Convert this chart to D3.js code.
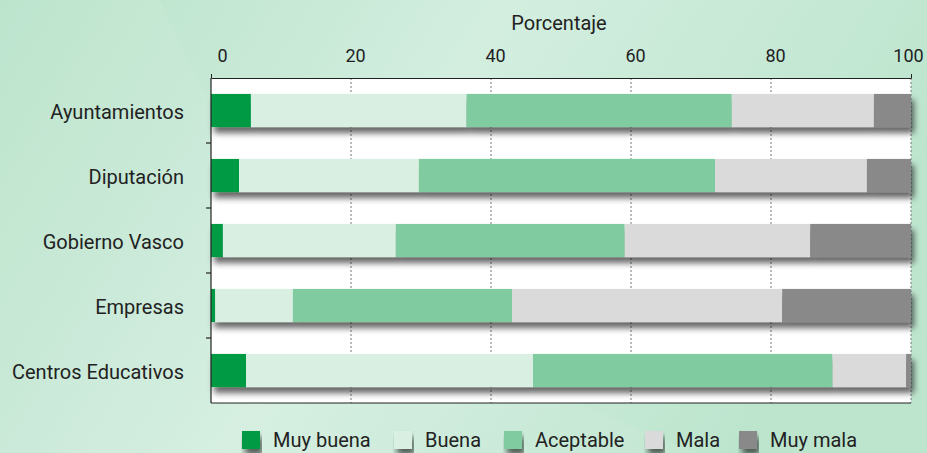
<!DOCTYPE html>
<html>
<head>
<meta charset="utf-8">
<script src="https://cdn.jsdelivr.net/npm/d3@7"></script>
<style>
  body { margin: 0; padding: 0; }
  svg { display: block; font-family: Roboto, "DejaVu Sans", sans-serif; }
</style>
</head>
<body>
<div id="chart"></div>
<script>
// data (percent)
var categories = ["Ayuntamientos", "Diputación", "Gobierno Vasco", "Empresas", "Centros Educativos"];
var series = ["Muy buena", "Buena", "Aceptable", "Mala", "Muy mala"];
var muyBuena  = [5.7, 4.0, 1.7, 0.6, 5.0];
var buena     = [30.8, 25.7, 24.7, 11.1, 41.0];
var aceptable = [37.9, 42.3, 32.7, 31.3, 42.8];
var mala      = [20.3, 21.7, 26.5, 38.6, 10.5];
var muyMala   = [5.3, 6.3, 14.4, 18.4, 0.7];
var xTicks = [0, 20, 40, 60, 80, 100];
var colors = ["#009a44", "#d9efe2", "#80cca0", "#dadada", "#898989"];

var W = 927, H = 453;
var margin = {top: 78, right: 16, bottom: 50, left: 211},
    width = 911 - margin.left,
    height = 403 - margin.top;

var svg = d3.select("#chart").append("svg")
    .attr("width", W)
    .attr("height", H);

// background gradient
var defs = svg.append("defs");
var bg = defs.append("linearGradient").attr("id", "bg")
    .attr("x1", "0").attr("y1", "0").attr("x2", "1").attr("y2", "0.3");
bg.append("stop").attr("offset", "0").attr("stop-color", "#b7e2c9");
bg.append("stop").attr("offset", "0.5").attr("stop-color", "#d3eedf");
bg.append("stop").attr("offset", "1").attr("stop-color", "#bde5ce");

var shadow = defs.append("filter").attr("id", "shadow")
    .attr("x", "-5%").attr("y", "-30%").attr("width", "115%").attr("height", "190%");
shadow.append("feDropShadow")
    .attr("dx", 3).attr("dy", 6).attr("stdDeviation", 3)
    .attr("flood-color", "#000").attr("flood-opacity", 0.6);

svg.append("rect").attr("width", W).attr("height", H).attr("fill", "url(#bg)");
// soft swoosh
svg.append("path")
    .attr("d", "M160,0 C200,90 240,170 330,250 C420,330 600,420 700,453 L0,453 L0,0 Z")
    .attr("fill", "#ffffff").attr("opacity", 0.08);

var g = svg.append("g")
    .attr("transform", "translate(" + margin.left + "," + margin.top + ")");

// plot background
g.append("rect").attr("width", width).attr("height", height).attr("fill", "#fff");

var x = d3.scaleLinear().domain([0, 100]).range([0, width]);
var y = d3.scaleBand().domain(categories).range([0, height]).paddingInner(0.49).paddingOuter(0.245);

// dotted grid lines
g.selectAll(".grid").data(xTicks.slice(1))
  .enter().append("line")
    .attr("x1", function(d) { return x(d); })
    .attr("x2", function(d) { return x(d); })
    .attr("y1", 0).attr("y2", height)
    .attr("stroke", "#777").attr("stroke-width", 1)
    .attr("stroke-dasharray", "2,2");

// stacked bars
var rows = categories.map(function(c, i) {
  return {cat: c, "Muy buena": muyBuena[i], "Buena": buena[i], "Aceptable": aceptable[i], "Mala": mala[i], "Muy mala": muyMala[i]};
});
var stack = d3.stack().keys(series)(rows);

var barGroup = g.selectAll(".bar").data(categories)
  .enter().append("g")
    .attr("filter", "url(#shadow)");

barGroup.each(function(cat, i) {
  d3.select(this).selectAll("rect")
    .data(stack.map(function(s, k) { return {k: k, v: s[i]}; }))
    .enter().append("rect")
      .attr("x", function(d) { return x(d.v[0]); })
      .attr("width", function(d) { return x(d.v[1]) - x(d.v[0]); })
      .attr("y", y(cat))
      .attr("height", y.bandwidth())
      .attr("fill", function(d) { return colors[d.k]; });
});

// frame: bottom and left solid
g.append("line").attr("x1", 0).attr("x2", width).attr("y1", height).attr("y2", height)
    .attr("stroke", "#222").attr("stroke-width", 1.2);
g.append("line").attr("x1", 0).attr("x2", 0).attr("y1", 0).attr("y2", height)
    .attr("stroke", "#222").attr("stroke-width", 1.2);

// top axis
var xAxis = d3.axisTop(x).tickValues(xTicks).tickSize(4).tickSizeOuter(0);
var xg = g.append("g").call(xAxis);
xg.select(".domain").attr("stroke", "#222").attr("stroke-width", 1.2);
xg.selectAll(".tick line").attr("stroke", "#222");
xg.selectAll(".tick line").filter(function(d) { return d !== 0 && d !== 100; }).remove();
xg.selectAll(".tick text")
  .attr("y", -16)
  .attr("dx", function(d) { return d === 0 ? 11 : (d === 100 ? -3 : 4); })
  .style("font-size", "18px").style("font-family", "Roboto, sans-serif").attr("fill", "#222");

// left category ticks between bands
var boundaries = categories.slice(1).map(function(c) { return y(c) - y.step() * y.paddingInner() / 2; });
g.selectAll(".ytick").data(boundaries)
  .enter().append("line")
    .attr("x1", -5).attr("x2", 0)
    .attr("y1", function(d) { return d; }).attr("y2", function(d) { return d; })
    .attr("stroke", "#222").attr("stroke-width", 1.2);

g.selectAll(".ylab").data(categories)
  .enter().append("text")
    .attr("x", -27)
    .attr("y", function(d) { return y(d) + y.bandwidth() / 2; })
    .attr("dy", "0.42em")
    .attr("text-anchor", "end")
    .style("font-size", "20px")
    .attr("fill", "#222")
    .text(function(d) { return d; });

// axis title
svg.append("text")
    .attr("x", margin.left + width / 2 - 2)
    .attr("y", 30)
    .attr("text-anchor", "middle")
    .style("font-size", "20px")
    .attr("fill", "#222")
    .text("Porcentaje");

// legend
var legendX = [242, 394, 504, 645, 739];
var leg = svg.selectAll(".leg").data(series)
  .enter().append("g")
    .attr("transform", function(d, i) { return "translate(" + legendX[i] + ",431)"; });
leg.append("rect")
    .attr("width", 18).attr("height", 18)
    .attr("fill", function(d, i) { return colors[i]; })
    .attr("filter", "url(#shadow)");
leg.append("text")
    .attr("x", 31).attr("y", 16)
    .style("font-size", "20px")
    .attr("fill", "#222")
    .text(function(d) { return d; });
</script>
</body>
</html>
